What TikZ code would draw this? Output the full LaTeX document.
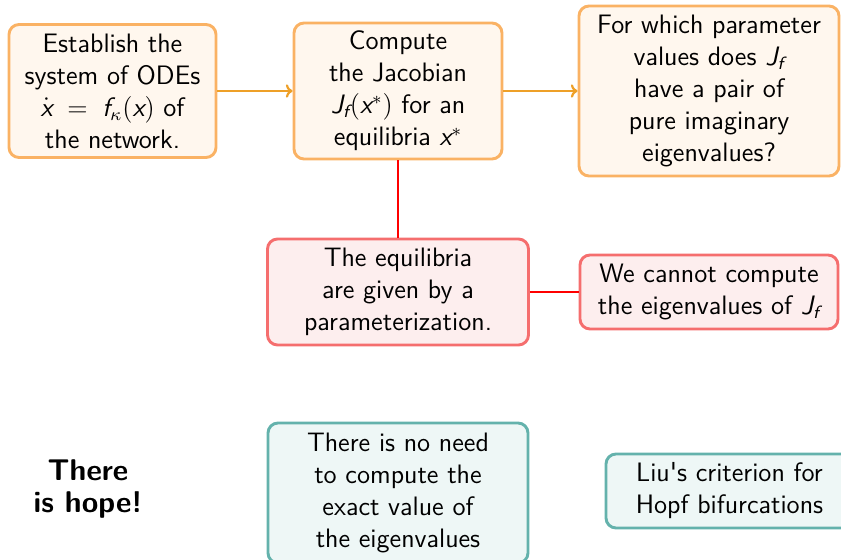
\documentclass[tikz,border=0pt]{standalone}
\usepackage{amsmath}
\usetikzlibrary{arrows.meta}
\definecolor{oB}{RGB}{250,178,100}
\definecolor{oF}{RGB}{255,247,238}
\definecolor{oA}{RGB}{238,160,40}
\definecolor{rB}{RGB}{245,110,110}
\definecolor{rF}{RGB}{253,238,238}
\definecolor{tB}{RGB}{100,178,172}
\definecolor{tF}{RGB}{238,247,246}
\newcommand{\mi}[1]{\text{\itshape #1}}
\tikzset{
  box/.style={draw, rounded corners=4.5pt, line width=1.3pt, align=center,
    font=\sffamily\fontsize{12}{14.4}\selectfont, inner sep=2pt},
  obox/.style={box, draw=oB, fill=oF},
  rbox/.style={box, draw=rB, fill=rF},
  tbox/.style={box, draw=tB, fill=tF},
  oarrow/.style={draw=oA, line width=1pt, -{To[length=3pt,width=6pt]}},
  rline/.style={draw=red, line width=0.9pt},
}
\begin{document}
\begin{tikzpicture}[x=0.45pt,y=-0.45pt]
\useasboundingbox (0,0) rectangle (841,559);
\node[obox, minimum width={207*0.45pt}, minimum height={133*0.45pt}] (b1) at (112.5,91)
  {Establish the\\ system of ODEs\\ $\dot{\mi{x}} \;=\; \mi{f}_{\kappa}(\mi{x})$ of\\ the network.};
\node[obox, minimum width={208*0.45pt}, minimum height={136*0.45pt}] (b2) at (398,91)
  {Compute\\ the Jacobian\\ $\mi{J}_{\mi{f}}(\mi{x}^*)$ for an\\ equilibria $\mi{x}^*$};
\node[obox, minimum width={260*0.45pt}, minimum height={170*0.45pt}] (b3) at (709,91)
  {For which parameter\\ values does $\mi{J}_{\mi{f}}$\\ have a pair of\\ pure imaginary\\ eigenvalues?};
\node[rbox, minimum width={261*0.45pt}, minimum height={106*0.45pt}] (b4) at (398,292)
  {The equilibria\\ are given by a\\ parameterization.};
\node[rbox, minimum width={258*0.45pt}, minimum height={74*0.45pt}] (b5) at (709,292)
  {We cannot compute\\ the eigenvalues of $\mi{J}_{\mi{f}}$};
\node[font=\sffamily\bfseries\fontsize{13.5}{14.4}\selectfont, align=center] (hope) at (88,489)
  {There\\ is hope!};
\node[tbox, minimum width={260*0.45pt}, minimum height={140*0.45pt}] (b6) at (398,493)
  {There is no need\\ to compute the\\ exact value of\\ the eigenvalues};
\node[tbox, minimum width={247*0.45pt}, minimum height={74*0.45pt}] (b7) at (729.5,491)
  {Liu\textquotesingle s criterion for\\ Hopf bifurcations};
\draw[oarrow] (b1.east) -- (b2.west);
\draw[oarrow] (b2.east) -- (b3.west);
\draw[rline] (b2.south) -- (b4.north);
\draw[rline] (b4.east) -- (b5.west);
\end{tikzpicture}
\end{document}
